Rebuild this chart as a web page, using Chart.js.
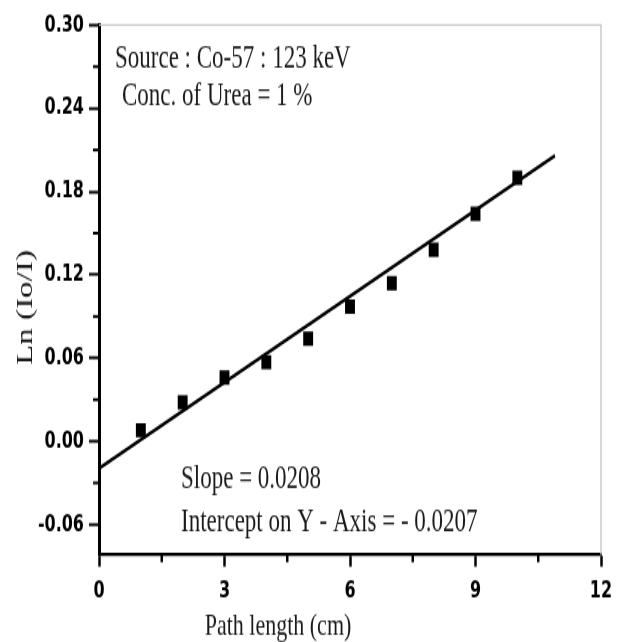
<!DOCTYPE html>
<html lang="en">
<head>
  <meta charset="UTF-8" />
  <script src="https://cdn.jsdelivr.net/npm/chart.js"></script>
  <title>Ln (Io/I) vs Path length</title>
  <style>
    html, body { margin: 0; padding: 0; background: #fff; }
    body { width: 624px; height: 642px; }
    /* the original figure is stretched vertically, so draw at 624x446 and stretch */
    #wrap { width: 624px; height: 446px; transform: scaleY(1.4395); transform-origin: 0 0; }
  </style>
</head>
<body>
  <div id="wrap"><canvas id="grafico"></canvas></div>

<script>
  // dados
  const pathLength = [1, 2, 3, 4, 5, 6, 7, 8, 9, 10];
  const lnRatio = [0.008, 0.028, 0.046, 0.057, 0.074, 0.097, 0.114, 0.138, 0.164, 0.190];
  const fitX = [0, 10.9];
  const fitY = [-0.0195, 0.206];

  const xTicks = [0, 3, 6, 9, 12];
  const xMinor = [1.5, 4.5, 7.5, 10.5];
  const yTicks = [-0.06, 0, 0.06, 0.12, 0.18, 0.24, 0.30];
  const yMinor = [-0.03, 0.03, 0.09, 0.15, 0.21, 0.27];

  const notesTop = ['Source : Co-57 : 123 keV', 'Conc. of Urea = 1 %'];
  const notesBottom = ['Slope = 0.0208', 'Intercept on Y - Axis = - 0.0207'];
  const xTitle = 'Path length (cm)';
  const yTitle = 'Ln (Io/I)';

  const serif = '23px "Liberation Serif", "Times New Roman", serif';
  const tickFont = { family: '"DejaVu Sans", sans-serif', size: 16, weight: 'bold' };

  // moldura, ticks menores e textos
  const extras = {
    id: 'extras',
    afterDraw(chart) {
      const ctx = chart.ctx;
      const a = chart.chartArea;
      const sx = chart.scales.x, sy = chart.scales.y;

      ctx.save();
      ctx.strokeStyle = '#c8c8c8';
      ctx.lineWidth = 1.4;
      ctx.beginPath();
      ctx.moveTo(a.left, a.top);
      ctx.lineTo(a.right, a.top);
      ctx.lineTo(a.right, a.bottom);
      ctx.stroke();

      ctx.strokeStyle = '#000';
      ctx.lineWidth = 2.5;
      xMinor.forEach(v => {
        const px = sx.getPixelForValue(v);
        ctx.beginPath();
        ctx.moveTo(px, a.bottom);
        ctx.lineTo(px, a.bottom + 5);
        ctx.stroke();
      });
      ctx.lineWidth = 2;
      yMinor.forEach(v => {
        const py = sy.getPixelForValue(v);
        ctx.beginPath();
        ctx.moveTo(a.left - 6, py);
        ctx.lineTo(a.left, py);
        ctx.stroke();
      });

      ctx.fillStyle = '#1a1a1a';
      ctx.font = serif;
      ctx.textAlign = 'left';
      ctx.textBaseline = 'alphabetic';
      ctx.fillText(notesTop[0], 115, 46.5);
      ctx.fillText(notesTop[1], 122, 73);
      ctx.fillText(notesBottom[0], 181, 339);
      ctx.fillText(notesBottom[1], 181, 369);

      ctx.font = '22px "Liberation Serif", "Times New Roman", serif';
      ctx.textAlign = 'center';
      ctx.fillText(xTitle, 278, 441);

      ctx.font = serif;
      ctx.translate(32, 213.6);
      ctx.rotate(-Math.PI / 2);
      ctx.fillText(yTitle, 0, 0);
      ctx.restore();
    }
  };

  const pontos = pathLength.map((x, i) => ({ x: x, y: lnRatio[i] }));
  const reta = fitX.map((x, i) => ({ x: x, y: fitY[i] }));

  new Chart(document.getElementById('grafico'), {
    type: 'scatter',
    data: {
      datasets: [
        {
          label: 'Ln (Io/I)',
          data: pontos,
          pointStyle: 'rect',
          pointRadius: 7,
          pointBorderWidth: 0,
          backgroundColor: '#000',
          borderColor: '#000'
        },
        {
          label: 'Linear fit',
          data: reta,
          showLine: true,
          pointRadius: 0,
          borderColor: '#000',
          borderWidth: 2.5
        }
      ]
    },
    options: {
      responsive: true,
      maintainAspectRatio: false,
      animation: false,
      events: [],
      layout: { padding: { top: 17.4, right: 23, left: 0, bottom: 0 } },
      plugins: {
        legend: { display: false },
        tooltip: { enabled: false }
      },
      scales: {
        x: {
          type: 'linear',
          min: 0,
          max: 12,
          afterBuildTicks: s => { s.ticks = xTicks.map(v => ({ value: v })); },
          afterFit: s => { s.height = 60.4; },
          ticks: { font: tickFont, color: '#000', padding: 8, maxRotation: 0, callback: v => String(v) },
          grid: { drawOnChartArea: false, tickLength: 8, tickWidth: 2.5, tickColor: '#000' },
          border: { display: true, color: '#000', width: 2.2 }
        },
        y: {
          type: 'linear',
          min: -0.082,
          max: 0.30,
          afterBuildTicks: s => { s.ticks = yTicks.map(v => ({ value: v })); },
          afterFit: s => { s.width = 99; },
          ticks: { font: tickFont, color: '#000', padding: 5, callback: v => v.toFixed(2) },
          grid: { drawOnChartArea: false, tickLength: 10, tickWidth: 2, tickColor: '#000' },
          border: { display: true, color: '#000', width: 3 }
        }
      }
    },
    plugins: [extras]
  });
</script>
</body>
</html>
